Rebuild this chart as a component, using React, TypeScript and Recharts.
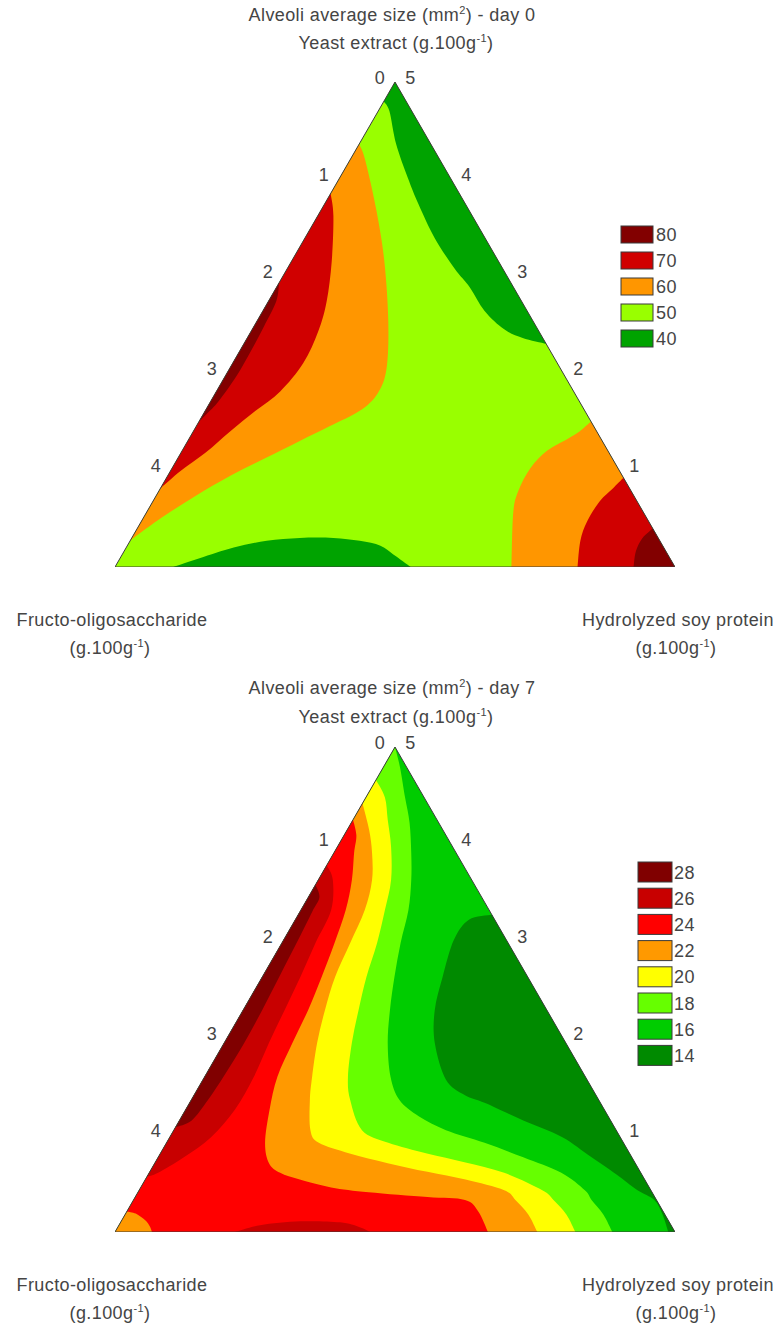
import React from 'react';
import { ComposedChart, Scatter, XAxis, YAxis } from 'recharts';

// Mixture of three ingredients summing to 5 g.100g-1.
// Every composition is written as [hydrolyzed soy protein, yeast extract];
// fructo-oligosaccharide is the remainder up to 5.
type Comp = [number, number];

const TOTAL = 5;
const SIN60 = Math.sqrt(3) / 2;

const FONT = '"Liberation Sans", Arial, Helvetica, sans-serif';
const INK = '#454545';
const FONT_SIZE = 18;

const tickValues = [0, 1, 2, 3, 4, 5];

const triangle: Comp[] = [[0, 0], [5, 0], [0, 5]];

// ---------------- Day 0 ----------------
const day0Levels = ['80', '70', '60', '50', '40'];
const day0Colors = ['#820000', '#d00000', '#ff9600', '#99ff00', '#00a300'];

const day0Zone40North: Comp[] = [
  [0, 5], [0, 4.8], [0.1, 4.7], [0.33, 4.36], [0.61, 4.01], [0.84, 3.74], [1.16, 3.39],
  [1.49, 3.08], [1.73, 2.88], [1.98, 2.64], [2.25, 2.45], [2.46, 2.36], [2.7, 2.3],
];
const day0Zone40South: Comp[] = [
  [0.52, 0], [0.71, 0.09], [0.96, 0.2], [1.22, 0.27], [1.5, 0.3], [1.8, 0.3], [2.05, 0.27],
  [2.26, 0.22], [2.42, 0.13], [2.54, 0.06], [2.64, 0],
];
const day0Zone60West: Comp[] = [
  [0, 4.36], [0.14, 4.19], [0.5, 3.67], [0.83, 3.15], [1.17, 2.54], [1.4, 2.05], [1.45, 1.79],
  [1.38, 1.61], [1.19, 1.45], [1.0, 1.3], [0.78, 1.12], [0.56, 0.94], [0.35, 0.73],
  [0.18, 0.53], [0.05, 0.35], [0, 0.27],
];
const day0Zone60East: Comp[] = [
  [3.54, 0], [3.28, 0.55], [3.21, 0.78], [3.2, 1.02], [3.26, 1.2], [3.38, 1.32], [3.45, 1.4],
  [3.5, 1.5], [5, 0],
];
const day0Zone70West: Comp[] = [
  [0, 3.85], [0.14, 3.62], [0.36, 3.15], [0.52, 2.74], [0.6, 2.43], [0.63, 2.1], [0.57, 1.81],
  [0.45, 1.61], [0.33, 1.4], [0.22, 1.18], [0.09, 0.99], [0, 0.81],
];
const day0Zone70East: Comp[] = [
  [4.13, 0], [4.02, 0.27], [3.98, 0.47], [3.99, 0.68], [4.04, 0.81], [4.08, 0.92], [5, 0],
];
const day0Zone80West: Comp[] = [
  [0, 2.93], [0.07, 2.74], [0.09, 2.48], [0.1, 2.23], [0.1, 1.97], [0.07, 1.71], [0.03, 1.58],
  [0, 1.5],
];
const day0Zone80East: Comp[] = [
  [4.63, 0], [4.57, 0.16], [4.56, 0.29], [4.59, 0.37], [4.6, 0.4], [5, 0],
];

// ---------------- Day 7 ----------------
const day7Levels = ['28', '26', '24', '22', '20', '18', '16', '14'];
const day7Colors = ['#800000', '#c80000', '#ff0000', '#ff9900', '#ffff00', '#66ff00', '#00cc00', '#008a00'];

const day7Zone14: Comp[] = [
  [1.73, 3.27], [1.55, 3.22], [1.52, 3.01], [1.61, 2.63], [1.71, 2.29], [1.88, 1.95],
  [2.17, 1.57], [2.42, 1.41], [2.64, 1.33], [3.07, 1.15], [3.5, 0.98], [3.87, 0.77],
  [4.22, 0.57], [4.45, 0.43], [4.65, 0.33], [4.79, 0.19], [4.94, 0], [5, 0],
];
const day7Zone18: Comp[] = [
  [0, 5], [0.15, 4.79], [0.35, 4.48], [0.52, 4.22], [0.69, 3.91], [0.83, 3.63], [0.96, 3.32],
  [1.06, 2.98], [1.18, 2.63], [1.31, 2.29], [1.46, 1.95], [1.66, 1.6], [1.86, 1.36],
  [2.12, 1.19], [2.43, 1.05], [2.84, 0.92], [3.26, 0.77], [3.68, 0.61], [3.98, 0.43],
  [4.09, 0.33], [4.27, 0.18], [4.44, 0], [0, 0],
];
const day7Zone20: Comp[] = [
  [0, 4.66], [0.17, 4.48], [0.31, 4.25], [0.48, 3.97], [0.65, 3.63], [0.75, 3.32], [0.85, 2.98],
  [0.93, 2.63], [1.03, 2.29], [1.14, 1.95], [1.28, 1.6], [1.42, 1.36], [1.68, 1.05],
  [1.98, 0.92], [2.38, 0.81], [2.76, 0.72], [3.17, 0.61], [3.6, 0.43], [3.75, 0.33],
  [3.94, 0.18], [4.11, 0], [0, 0],
];
const day7Zone22: Comp[] = [
  [0, 4.42], [0.2, 4.14], [0.34, 3.91], [0.48, 3.63], [0.57, 3.32], [0.61, 2.98], [0.65, 2.63],
  [0.73, 2.29], [0.83, 1.95], [0.96, 1.6], [1.06, 1.36], [1.22, 1.05], [1.36, 0.92],
  [1.69, 0.81], [2.08, 0.71], [2.48, 0.62], [2.86, 0.54], [3.26, 0.43], [3.41, 0.33],
  [3.6, 0.18], [3.77, 0], [0, 0],
];
const day7Zone24: Comp[] = [
  [0, 4.25], [0.11, 4.09], [0.18, 3.91], [0.3, 3.63], [0.4, 3.32], [0.47, 2.98], [0.53, 2.63],
  [0.58, 2.29], [0.61, 1.95], [0.65, 1.6], [0.75, 1.26], [0.88, 0.92], [1.02, 0.71],
  [1.17, 0.61], [1.38, 0.54], [1.7, 0.46], [2.06, 0.41], [2.61, 0.36], [2.96, 0.33],
  [3.14, 0.21], [3.33, 0], [0.33, 0], [0.28, 0.06], [0.21, 0.12], [0.09, 0.19], [0, 0.21],
];
const day7Zone26West: Comp[] = [
  [0, 3.78], [0.13, 3.63], [0.27, 3.32], [0.3, 2.98], [0.34, 2.63], [0.37, 2.29], [0.4, 1.95],
  [0.44, 1.6], [0.44, 1.26], [0.37, 0.98], [0.23, 0.77], [0.08, 0.61], [0, 0.57],
];
const day7Zone26South: Comp[] = [
  [1.07, 0], [1.26, 0.07], [1.6, 0.11], [1.96, 0.1], [2.16, 0.05], [2.28, 0],
];
const day7Zone28: Comp[] = [
  [0, 3.58], [0.1, 3.45], [0.11, 3.3], [0.13, 3.01], [0.15, 2.65], [0.17, 2.29], [0.18, 1.95],
  [0.17, 1.62], [0.15, 1.36], [0.11, 1.15], [0, 1.08],
];

// ---------------- geometry helpers ----------------
const toPlane = ([hsp, ye]: Comp) => ({ x: hsp + ye / 2, y: ye * SIN60 });

const EPS = 1e-6;
// which sides of the triangle a composition lies on
const sidesOf = ([hsp, ye]: Comp) => ({
  left: Math.abs(hsp) < EPS,
  base: Math.abs(ye) < EPS,
  right: Math.abs(hsp + ye - TOTAL) < EPS,
});
const alongSide = (a: Comp, b: Comp) => {
  const sa = sidesOf(a);
  const sb = sidesOf(b);
  return (sa.left && sb.left) || (sa.base && sb.base) || (sa.right && sb.right);
};

type Layer = { points: Comp[]; color: string };

// Closed contour path: straight along the triangle sides, smooth (Catmull-Rom) inside.
const contourPath = (comps: Comp[], pts: { x: number; y: number }[]) => {
  const n = pts.length;
  if (!n) return '';
  const straight = (i: number) => alongSide(comps[i % n], comps[(i + 1) % n]);
  let d = `M${pts[0].x},${pts[0].y}`;
  for (let i = 0; i < n; i++) {
    const j = (i + 1) % n;
    const p1 = pts[i];
    const p2 = pts[j];
    if (straight(i)) {
      d += `L${p2.x},${p2.y}`;
      continue;
    }
    const p0 = straight((i - 1 + n) % n) ? p1 : pts[(i - 1 + n) % n];
    const p3 = straight(j) ? p2 : pts[(j + 1) % n];
    const c1x = p1.x + (p2.x - p0.x) / 6;
    const c1y = p1.y + (p2.y - p0.y) / 6;
    const c2x = p2.x - (p3.x - p1.x) / 6;
    const c2y = p2.y - (p3.y - p1.y) / 6;
    d += `C${c1x},${c1y} ${c2x},${c2y} ${p2.x},${p2.y}`;
  }
  return d + 'Z';
};

const contourLine = (comps: Comp[], fill: string, stroke = 'none', strokeWidth = 0) => (props: any) => {
  const pts = (props.points || []).filter((p: any) => p.x != null && p.y != null);
  return (
    <path
      d={contourPath(comps, pts)}
      fill={fill}
      stroke={stroke}
      strokeWidth={strokeWidth}
      strokeLinejoin="miter"
    />
  );
};

const NoDot = () => <g />;

const tickShape = (dx: number, dy: number) => (props: any) => (
  <text
    x={props.cx + dx}
    y={props.cy + dy}
    textAnchor="middle"
    fontFamily={FONT}
    fontSize={FONT_SIZE}
    letterSpacing={0.4}
    fill={INK}
  >
    {props.payload.label}
  </text>
);

// left side: fructo-oligosaccharide, right side: yeast extract, base: hydrolyzed soy protein
const leftTicks = tickValues.map((k) => ({ ...toPlane([0, TOTAL - k]), label: String(k) }));
const rightTicks = tickValues.map((k) => ({ ...toPlane([TOTAL - k, k]), label: String(k) }));
const baseTicks = tickValues.map((k) => ({ ...toPlane([k, 0]), label: String(k) }));

const Sup = ({ children }: { children: React.ReactNode }) => (
  <tspan dy={-7} fontSize={11}>{children}</tspan>
);

type PanelProps = {
  top: number;
  height: number;
  day: string;
  titleY: number;
  subtitleY: number;
  layers: Layer[];
  levels: string[];
  colors: string[];
  legend: { x: number; y: number; w: number; h: number; pitch: number; labelX: number };
};

const Panel = ({ top, height, day, titleY, subtitleY, layers, levels, colors, legend }: PanelProps) => {
  const plotTop = 7;
  const plotSize = 560;
  return (
    <div style={{ position: 'absolute', left: 0, top, width: 780, height }}>
      <ComposedChart
        width={780}
        height={height}
        margin={{ top: plotTop, left: 115, right: 780 - 115 - plotSize, bottom: height - plotTop - plotSize }}
      >
        <XAxis type="number" dataKey="x" domain={[0, 5]} hide allowDataOverflow />
        <YAxis type="number" dataKey="y" domain={[0, 5]} hide allowDataOverflow />
        {layers.map((layer, i) => (
          <Scatter
            key={`zone-${i}`}
            data={layer.points.map(toPlane)}
            line={contourLine(layer.points, layer.color)}
            lineType="joint"
            shape={NoDot}
            fill={layer.color}
            isAnimationActive={false}
          />
        ))}
        <Scatter
          data={triangle.map(toPlane)}
          line={contourLine(triangle, 'none', '#3c3c3c', 1)}
          lineType="joint"
          shape={NoDot}
          isAnimationActive={false}
        />
        <Scatter data={leftTicks} shape={tickShape(-15, 2)} isAnimationActive={false} />
        <Scatter data={rightTicks} shape={tickShape(15.5, 2)} isAnimationActive={false} />
        <Scatter data={baseTicks} shape={tickShape(0, 27)} isAnimationActive={false} />
      </ComposedChart>
      <svg
        width={780}
        height={height}
        style={{ position: 'absolute', left: 0, top: 0, pointerEvents: 'none' }}
        fontFamily={FONT}
        fontSize={FONT_SIZE}
        fill={INK}
        letterSpacing={0.4}
      >
        <text x={392} y={titleY} textAnchor="middle">
          Alveoli average size (mm<Sup>2</Sup><tspan dy={7}>) - day {day}</tspan>
        </text>
        <text x={396} y={subtitleY} textAnchor="middle">
          Yeast extract (g.100g<Sup>-1</Sup><tspan dy={7}>)</tspan>
        </text>
        <text x={112} y={626} textAnchor="middle">Fructo-oligosaccharide</text>
        <text x={110} y={654} textAnchor="middle">
          (g.100g<Sup>-1</Sup><tspan dy={7}>)</tspan>
        </text>
        <text x={678} y={626} textAnchor="middle">Hydrolyzed soy protein</text>
        <text x={676} y={654} textAnchor="middle">
          (g.100g<Sup>-1</Sup><tspan dy={7}>)</tspan>
        </text>
        {levels.map((lv, i) => {
          const y = legend.y + i * legend.pitch;
          return (
            <g key={lv}>
              <rect
                x={legend.x}
                y={y}
                width={legend.w}
                height={legend.h}
                fill={colors[i]}
                stroke="#3a3a3a"
                strokeWidth={1}
              />
              <text x={legend.labelX} y={y + legend.h / 2 + 6.5}>{lv}</text>
            </g>
          );
        })}
      </svg>
    </div>
  );
};

const day0Layers: Layer[] = [
  { points: triangle, color: day0Colors[3] },
  { points: day0Zone40North, color: day0Colors[4] },
  { points: day0Zone40South, color: day0Colors[4] },
  { points: day0Zone60West, color: day0Colors[2] },
  { points: day0Zone60East, color: day0Colors[2] },
  { points: day0Zone70West, color: day0Colors[1] },
  { points: day0Zone70East, color: day0Colors[1] },
  { points: day0Zone80West, color: day0Colors[0] },
  { points: day0Zone80East, color: day0Colors[0] },
];

const day7Layers: Layer[] = [
  { points: triangle, color: day7Colors[6] },
  { points: day7Zone14, color: day7Colors[7] },
  { points: day7Zone18, color: day7Colors[5] },
  { points: day7Zone20, color: day7Colors[4] },
  { points: day7Zone22, color: day7Colors[3] },
  { points: day7Zone24, color: day7Colors[2] },
  { points: day7Zone26West, color: day7Colors[1] },
  { points: day7Zone26South, color: day7Colors[1] },
  { points: day7Zone28, color: day7Colors[0] },
];

export default function App() {
  return (
    <div style={{ position: 'absolute', left: 0, top: 0, width: 780, height: 1329, background: '#ffffff' }}>
      <Panel
        top={0}
        height={665}
        day="0"
        titleY={21}
        subtitleY={49}
        layers={day0Layers}
        levels={day0Levels}
        colors={day0Colors}
        legend={{ x: 621, y: 226, w: 32, h: 17, pitch: 26, labelX: 656 }}
      />
      <Panel
        top={665}
        height={664}
        day="7"
        titleY={29}
        subtitleY={58}
        layers={day7Layers}
        levels={day7Levels}
        colors={day7Colors}
        legend={{ x: 638, y: 197, w: 34, h: 20, pitch: 26.2, labelX: 674 }}
      />
    </div>
  );
}
